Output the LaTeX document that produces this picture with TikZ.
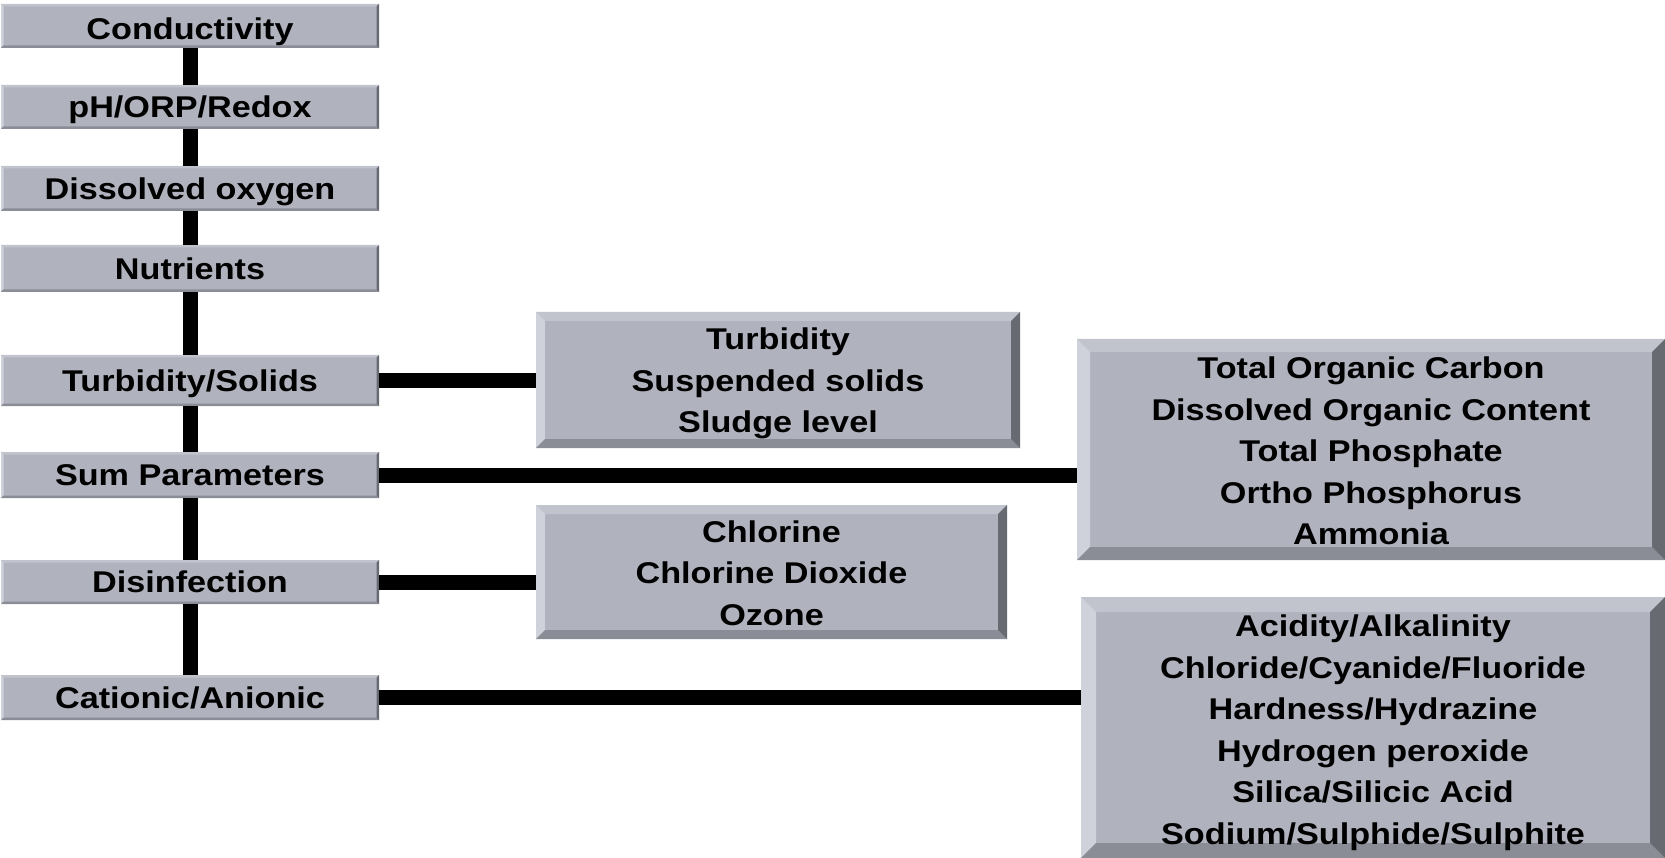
\documentclass[tikz,border=0pt]{standalone}
\usepackage{fontspec}
\newfontfamily\lbl{Liberation Sans}[FakeStretch=1.14]
\definecolor{boxfill}{RGB}{176,179,190}
\definecolor{bvtop}{RGB}{193,196,205}
\definecolor{bvleft}{RGB}{207,210,218}
\definecolor{bvbot}{RGB}{138,141,149}
\definecolor{bvright}{RGB}{104,106,114}
\newcommand\topgap[1]{\rule{0pt}{#1}}
\tikzset{
  bevel/.style={path picture={
    \fill[bvtop] (path picture bounding box.north west) -- (path picture bounding box.north east)
      -- ([shift={(-#1,-#1)}]path picture bounding box.north east) -- ([shift={(#1,-#1)}]path picture bounding box.north west) -- cycle;
    \fill[bvleft] (path picture bounding box.north west) -- (path picture bounding box.south west)
      -- ([shift={(#1,#1)}]path picture bounding box.south west) -- ([shift={(#1,-#1)}]path picture bounding box.north west) -- cycle;
    \fill[bvbot] (path picture bounding box.south west) -- (path picture bounding box.south east)
      -- ([shift={(-#1,#1)}]path picture bounding box.south east) -- ([shift={(#1,#1)}]path picture bounding box.south west) -- cycle;
    \fill[bvright] (path picture bounding box.north east) -- (path picture bounding box.south east)
      -- ([shift={(-#1,#1)}]path picture bounding box.south east) -- ([shift={(-#1,-#1)}]path picture bounding box.north east) -- cycle;
  }},
  box/.style={rectangle, fill=boxfill, inner sep=0pt, align=center,
    font=\lbl\bfseries\fontsize{30}{41.5}\selectfont},
  leftbox/.style={box, bevel=2.5pt, minimum width=378pt, text height=21.7pt, text depth=0pt},
  conn/.style={draw=black, line width=15pt},
}
\begin{document}
\begin{tikzpicture}[x=1pt,y=-1pt]
\useasboundingbox (0,0) rectangle (1665,858);
% left column
\node[leftbox, minimum height=44pt, text height=28pt] (cond) at (190,26) {Conductivity};
\node[leftbox, minimum height=44pt] (ph) at (190,107) {pH/ORP/Redox};
\node[leftbox, minimum height=45pt] (diss) at (190,188.5) {Dissolved oxygen};
\node[leftbox, minimum height=47pt] (nutr) at (190,268.5) {Nutrients};
\node[leftbox, minimum height=51pt] (turb) at (190,380.5) {Turbidity/Solids};
\node[leftbox, minimum height=46pt] (sum) at (190,475) {Sum Parameters};
\node[leftbox, minimum height=44pt] (dis) at (190,582) {Disinfection};
\node[leftbox, minimum height=45pt] (cat) at (190,697.5) {Cationic/Anionic};
% detail boxes
\node[box, bevel=9pt, minimum width=484pt, minimum height=136pt] (mturb) at (778,380)
  {\topgap{29pt}Turbidity\\Suspended solids\\Sludge level};
\node[box, bevel=9pt, minimum width=471pt, minimum height=134pt] (mdis) at (771.5,572)
  {\topgap{24pt}Chlorine\\Chlorine Dioxide\\Ozone};
\node[box, bevel=13pt, minimum width=588pt, minimum height=221pt] (rsum) at (1371,449.5)
  {\topgap{25pt}Total Organic Carbon\\Dissolved Organic Content\\Total Phosphate\\Ortho Phosphorus\\Ammonia};
\node[box, bevel=15pt, minimum width=584pt, minimum height=261pt] (rcat) at (1373,727.5)
  {\topgap{32pt}Acidity/Alkalinity\\Chloride/Cyanide/Fluoride\\Hardness/Hydrazine\\Hydrogen peroxide\\Silica/Silicic Acid\\Sodium/Sulphide/Sulphite};
% vertical connectors
\draw[conn] (cond.south) -- (ph.north);
\draw[conn] (ph.south) -- (diss.north);
\draw[conn] (diss.south) -- (nutr.north);
\draw[conn] (nutr.south) -- (turb.north);
\draw[conn] (turb.south) -- (sum.north);
\draw[conn] (sum.south) -- (dis.north);
\draw[conn] (dis.south) -- (cat.north);
% horizontal connectors
\draw[conn] (turb.east) -- (turb.east -| mturb.west);
\draw[conn] (sum.east) -- (sum.east -| rsum.west);
\draw[conn] (dis.east) -- (dis.east -| mdis.west);
\draw[conn] (cat.east) -- (cat.east -| rcat.west);
\end{tikzpicture}
\end{document}
